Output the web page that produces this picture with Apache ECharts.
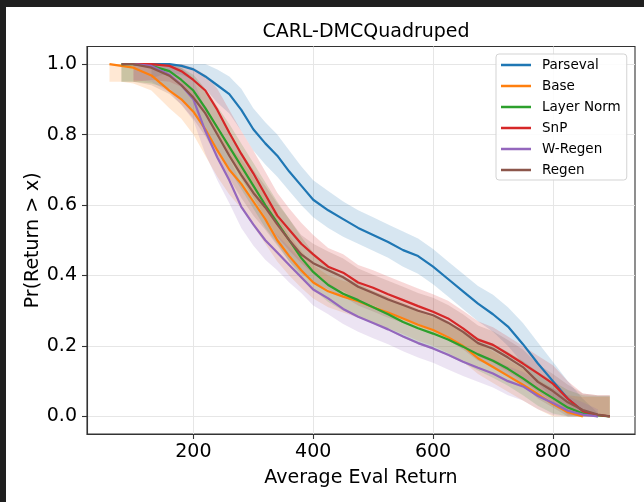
<!DOCTYPE html>
<html><head><meta charset="utf-8">
<script src="https://cdn.jsdelivr.net/npm/echarts@6/dist/echarts.min.js"></script>
<style>
html,body{margin:0;padding:0;background:#1f1f1f;width:644px;height:502px;overflow:hidden}
#c{position:absolute;left:6px;top:7px;width:638px;height:495px;background:#fff}
</style></head><body><div id="c"></div>
<script>
// x grid (Average Eval Return)
const returns = [60,80,100,130,160,180,200,220,240,260,280,300,320,340,360,380,400,425,450,475,500,525,550,575,600,625,650,675,700,725,750,775,800,825,850,875,895];

const parsevalMid = [null,null,null,1.0,1.0,0.995,0.985,0.965,0.94,0.915,0.87,0.815,0.775,0.74,0.695,0.655,0.615,0.585,0.56,0.535,0.515,0.495,0.472,0.455,0.425,0.39,0.355,0.32,0.29,0.255,0.205,0.15,0.1,0.05,0.015,0.0,null];
const parsevalLo  = [null,null,null,0.96,0.975,0.97,0.955,0.93,0.89,0.86,0.81,0.755,0.715,0.68,0.64,0.6,0.565,0.535,0.51,0.49,0.47,0.45,0.425,0.405,0.375,0.34,0.305,0.27,0.24,0.2,0.15,0.095,0.05,0.015,0,0,null];
const parsevalHi  = [null,null,null,1,1,1,1,1,0.985,0.965,0.93,0.875,0.835,0.8,0.755,0.71,0.67,0.64,0.61,0.585,0.565,0.545,0.525,0.505,0.475,0.44,0.405,0.37,0.345,0.31,0.265,0.21,0.155,0.1,0.05,0.01,null];

const baseMid = [1.0,0.995,0.99,0.968,0.925,0.9,0.865,0.815,0.755,0.7,0.66,0.61,0.56,0.5,0.455,0.415,0.38,0.355,0.34,0.327,0.31,0.295,0.278,0.26,0.245,0.225,0.2,0.165,0.14,0.115,0.09,0.063,0.035,0.012,0,null,null];
const baseLo  = [0.95,0.95,0.945,0.925,0.875,0.845,0.8,0.74,0.68,0.63,0.59,0.54,0.49,0.44,0.4,0.365,0.335,0.31,0.295,0.28,0.265,0.25,0.233,0.215,0.2,0.18,0.155,0.12,0.095,0.07,0.045,0.02,0,0,0,0,0];
const baseHi  = [1,1,1,1,0.97,0.95,0.925,0.88,0.825,0.77,0.73,0.68,0.63,0.57,0.515,0.47,0.43,0.4,0.385,0.372,0.355,0.34,0.323,0.305,0.29,0.27,0.245,0.21,0.185,0.16,0.135,0.105,0.08,0.06,0.055,0.055,0.055];

const layerNormMid = [null,1.0,1.0,0.995,0.98,0.955,0.925,0.875,0.82,0.765,0.71,0.655,0.6,0.55,0.5,0.45,0.41,0.373,0.348,0.33,0.31,0.29,0.268,0.25,0.235,0.218,0.198,0.176,0.158,0.135,0.108,0.078,0.052,0.025,0.008,0.003,0];
const layerNormLo  = [null,0.95,0.95,0.945,0.93,0.9,0.865,0.81,0.755,0.7,0.645,0.59,0.535,0.49,0.44,0.395,0.36,0.325,0.3,0.283,0.265,0.245,0.223,0.205,0.19,0.172,0.152,0.13,0.11,0.087,0.06,0.03,0.008,0,0,0,0];
const layerNormHi  = [null,1,1,1,1,0.99,0.97,0.93,0.88,0.83,0.775,0.72,0.665,0.61,0.56,0.51,0.465,0.425,0.398,0.378,0.357,0.337,0.315,0.297,0.282,0.265,0.245,0.223,0.206,0.183,0.157,0.127,0.1,0.075,0.06,0.058,0.058];

const snpMid = [null,null,1.0,1.0,0.995,0.98,0.955,0.925,0.87,0.805,0.745,0.69,0.63,0.57,0.53,0.49,0.46,0.425,0.408,0.38,0.365,0.347,0.33,0.313,0.297,0.278,0.25,0.218,0.203,0.177,0.15,0.122,0.093,0.05,0.015,0.004,0];
const snpLo  = [null,null,0.95,0.955,0.95,0.935,0.905,0.865,0.8,0.735,0.675,0.62,0.565,0.51,0.47,0.435,0.405,0.372,0.355,0.33,0.315,0.297,0.28,0.263,0.247,0.228,0.2,0.17,0.153,0.127,0.1,0.07,0.04,0.005,0,0,0];
const snpHi  = [null,null,1,1,1,1,0.99,0.97,0.93,0.87,0.81,0.755,0.695,0.635,0.59,0.55,0.515,0.478,0.46,0.43,0.415,0.397,0.38,0.363,0.347,0.328,0.3,0.27,0.253,0.227,0.2,0.172,0.145,0.1,0.065,0.06,0.06];

const wRegenMid = [null,null,1.0,0.995,0.97,0.94,0.9,0.81,0.735,0.67,0.595,0.545,0.5,0.465,0.43,0.395,0.36,0.335,0.305,0.283,0.265,0.247,0.227,0.208,0.193,0.175,0.155,0.138,0.122,0.1,0.085,0.058,0.038,0.016,0.005,0,null];
const wRegenLo  = [null,null,0.955,0.95,0.92,0.885,0.84,0.745,0.67,0.605,0.535,0.485,0.445,0.415,0.38,0.35,0.315,0.29,0.262,0.24,0.222,0.205,0.185,0.167,0.152,0.133,0.115,0.098,0.082,0.06,0.045,0.02,0.003,0,0,0,null];
const wRegenHi  = [null,null,1,1,1,0.985,0.955,0.875,0.8,0.735,0.66,0.605,0.555,0.515,0.48,0.445,0.405,0.38,0.35,0.327,0.308,0.29,0.27,0.25,0.235,0.217,0.197,0.18,0.163,0.142,0.127,0.1,0.08,0.058,0.04,0.02,null];

const regenMid = [null,1.0,1.0,0.99,0.967,0.94,0.905,0.86,0.8,0.74,0.685,0.635,0.593,0.545,0.5,0.46,0.435,0.415,0.395,0.368,0.35,0.332,0.316,0.3,0.287,0.266,0.24,0.208,0.192,0.167,0.14,0.098,0.072,0.04,0.018,0.005,0];
const regenLo  = [null,0.95,0.95,0.94,0.915,0.885,0.845,0.795,0.735,0.675,0.62,0.57,0.53,0.485,0.44,0.405,0.38,0.36,0.34,0.315,0.298,0.28,0.265,0.25,0.237,0.216,0.19,0.158,0.142,0.117,0.09,0.05,0.025,0,0,0,0];
const regenHi  = [null,1,1,1,1,0.99,0.96,0.92,0.865,0.805,0.75,0.7,0.655,0.605,0.56,0.515,0.49,0.468,0.448,0.42,0.402,0.385,0.368,0.35,0.337,0.316,0.29,0.258,0.242,0.217,0.19,0.148,0.12,0.09,0.065,0.06,0.06];

const names = ['Parseval','Base','Layer Norm','SnP','W-Regen','Regen'];
const xTicks = [200,400,600,800];
const yTicks = [0,0.2,0.4,0.6,0.8,1.0];

const mids = [parsevalMid, baseMid, layerNormMid, snpMid, wRegenMid, regenMid];
const los  = [parsevalLo, baseLo, layerNormLo, snpLo, wRegenLo, regenLo];
const his  = [parsevalHi, baseHi, layerNormHi, snpHi, wRegenHi, regenHi];
const colors = ['#1f77b4','#ff7f0e','#2ca02c','#d62728','#9467bd','#8c564b'];
const bandColors = ['rgba(31,119,180,0.18)','rgba(255,127,14,0.18)','rgba(44,160,44,0.18)','rgba(214,39,40,0.18)','rgba(148,103,189,0.18)','rgba(140,86,75,0.18)'];

const FONT = 'DejaVu Sans';
const series = [];
names.forEach((n, k) => {
  const idx = returns.map((x, i) => i).filter(i => los[k][i] != null && his[k][i] != null);
  const upper = idx.map(i => [returns[i], his[k][i]]);
  const lower = idx.map(i => [returns[i], los[k][i]]);
  series.push({
    type: 'custom', name: '_band' + k, silent: true, z: 1, clip: true,
    data: [[returns[idx[0]], los[k][idx[0]]]],
    renderItem: function (params, api) {
      const pts = upper.map(p => api.coord(p)).concat(lower.slice().reverse().map(p => api.coord(p)));
      return { type: 'polygon', shape: { points: pts }, style: { fill: bandColors[k], stroke: null } };
    }
  });
});
names.forEach((n, k) => {
  series.push({
    type: 'line', name: n, color: colors[k],
    data: returns.map((x, i) => mids[k][i] == null ? null : [x, mids[k][i]]).filter(Boolean),
    symbol: 'none', lineStyle: { width: 2.2, color: colors[k] }, z: 3
  });
});

const chart = echarts.init(document.getElementById('c'), null, { renderer: 'canvas' });
chart.setOption({
  animation: false,
  textStyle: { fontFamily: FONT },
  title: {
    text: 'CARL-DMCQuadruped', left: 355, top: 11, textAlign: 'center',
    textStyle: { fontSize: 19, fontWeight: 'normal', color: '#000', fontFamily: FONT }
  },
  legend: {
    data: names, orient: 'vertical', left: 490, top: 47,
    icon: 'path://M0,0H30V2.4H0Z M36,0L36,2.4', itemWidth: 36, itemHeight: 2.4, itemGap: 5,
    padding: [3, 6, 2, 5],
    borderColor: '#d3d3d3', borderWidth: 1, borderRadius: 3, backgroundColor: 'rgba(255,255,255,0.85)',
    textStyle: { fontSize: 13.5, lineHeight: 16, color: '#000', fontFamily: FONT }
  },
  grid: { left: 81, top: 39.5, width: 548, height: 387.5, show: true, borderColor: '#333', borderWidth: 1.1, backgroundColor: 'transparent' },
  xAxis: {
    type: 'value', min: 22.5, max: 937,
    name: 'Average Eval Return', nameLocation: 'middle', nameGap: 35, nameMoveOverlap: false,
    nameTextStyle: { fontSize: 19, color: '#000', fontFamily: FONT },
    axisLine: { show: true, onZero: false, lineStyle: { color: '#333', width: 1.1 } },
    axisTick: { show: true, inside: false, length: 5, customValues: xTicks, lineStyle: { color: '#333', width: 1.1 } },
    axisLabel: { customValues: xTicks, fontSize: 19, color: '#000', margin: 9, fontFamily: FONT },
    splitLine: { show: true, lineStyle: { color: '#e6e6e6', width: 1 } }
  },
  yAxis: {
    type: 'value', min: -0.05, max: 1.05,
    name: 'Pr(Return > x)', nameLocation: 'middle', nameGap: 44, nameRotate: 90, nameMoveOverlap: false,
    nameTextStyle: { fontSize: 19, color: '#000', fontFamily: FONT },
    axisLine: { show: true, onZero: false, lineStyle: { color: '#333', width: 1.1 } },
    axisTick: { show: true, inside: false, length: 5, customValues: yTicks, lineStyle: { color: '#333', width: 1.1 } },
    axisLabel: { customValues: yTicks, fontSize: 19, color: '#000', margin: 10, fontFamily: FONT, formatter: v => Number(v).toFixed(1) },
    splitLine: { show: true, lineStyle: { color: '#e6e6e6', width: 1 } }
  },
  series: series
});
</script></body></html>
